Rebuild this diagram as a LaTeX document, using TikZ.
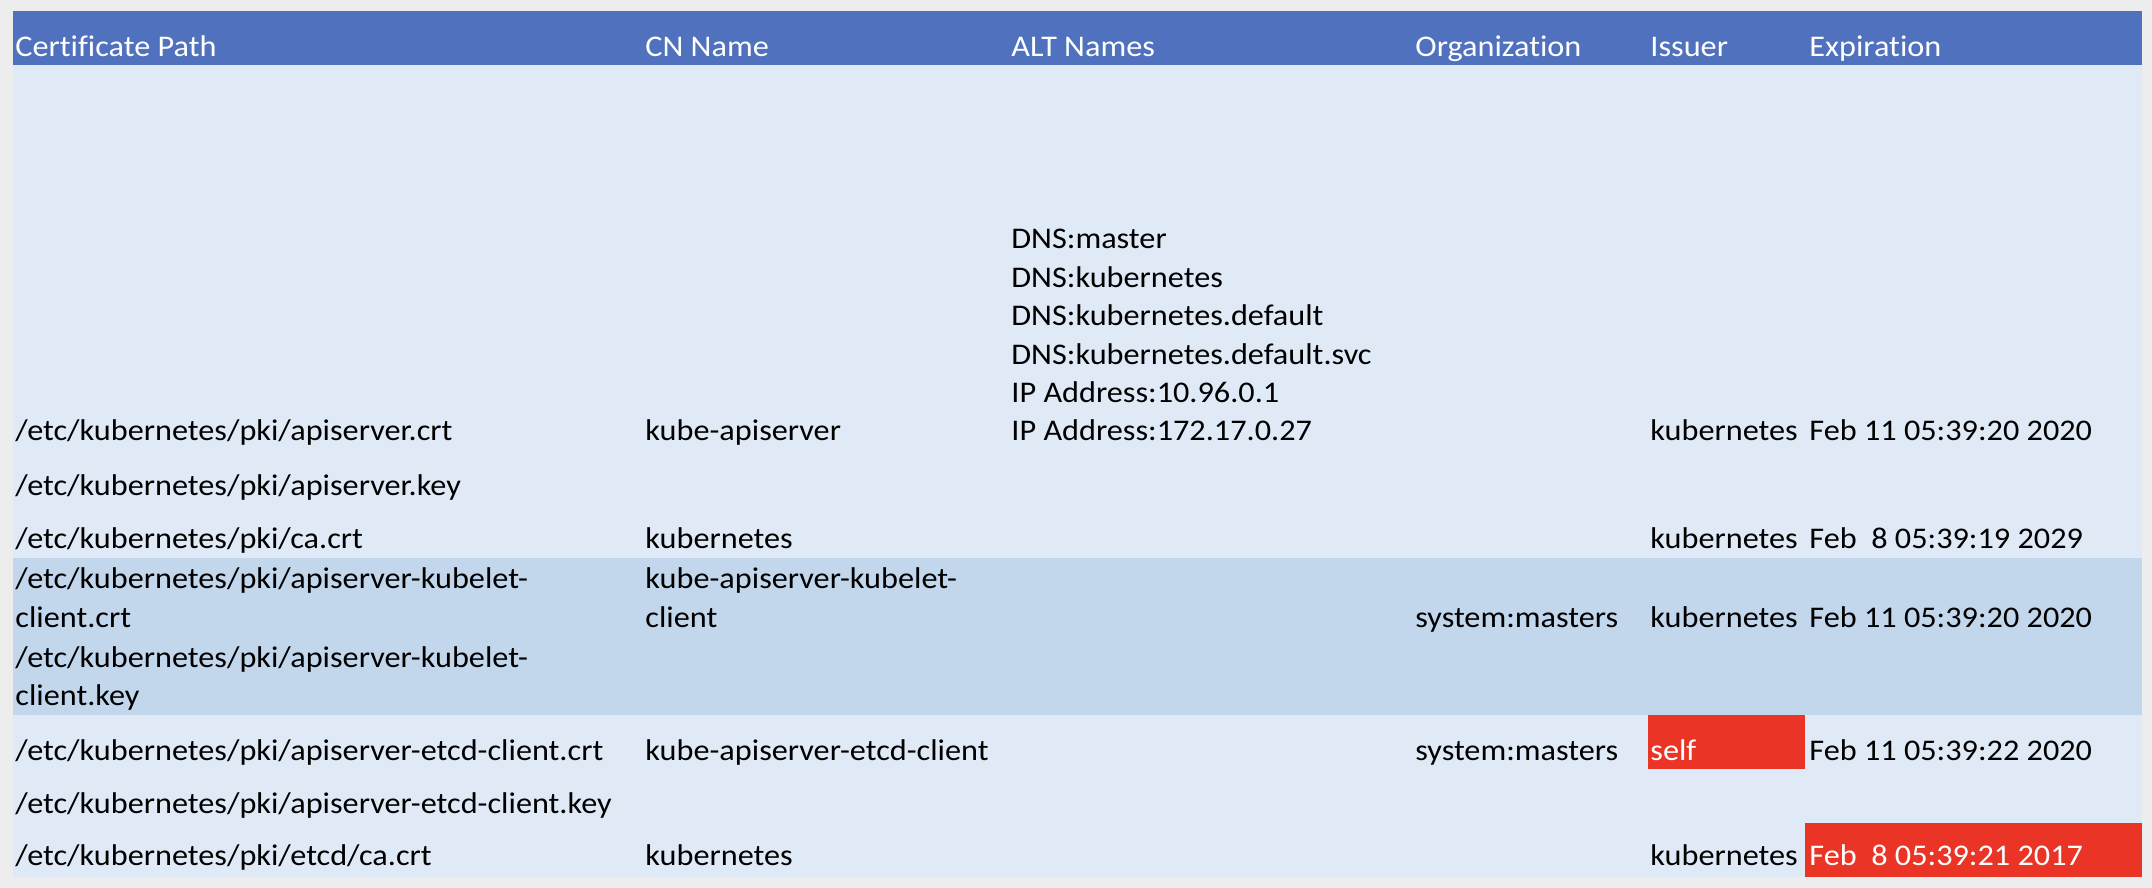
\documentclass[tikz,border=0pt]{standalone}
\usepackage{fontspec}
\setmainfont[FakeStretch=1.075, Ligatures={NoCommon}]{Carlito}
\usepackage{tikz}
\usetikzlibrary{positioning}
\definecolor{headblue}{HTML}{4F71BE}
\definecolor{rowlight}{HTML}{DFEAF6}
\definecolor{rowdark}{HTML}{C2D6EC}
\definecolor{alertred}{HTML}{EA3526}
\definecolor{pagegray}{HTML}{EDEDED}
\tikzset{cell/.style = {anchor = base west, inner sep = 0, font = \fontsize{15}{18}\selectfont}}
\tikzset{head/.style = {cell, text = white}}
\tikzset{alert/.style = {cell, text = white}}

\begin{document}
\begin{tikzpicture}[x = 0.5pt, y = -0.5pt]
      \useasboundingbox [fill=pagegray] (0, 0) rectangle (2152, 888);
      % bands
      \fill [headblue] (13, 11) rectangle (2142, 65);
      \fill [rowlight] (13, 65) rectangle (2142, 877);
      \fill [rowdark] (13, 558) rectangle (2142, 715);
      \fill [alertred] (1648, 715) rectangle (1805, 769);
      \fill [alertred] (1805, 823) rectangle (2142, 877);
      % header
      \node [head] (hpath) at (15, 57) {Certificate Path};
      \node [head] (hcn) at (645, 57) {CN Name};
      \node [head] (halt) at (1011, 57) {ALT Names};
      \node [head] (horg) at (1415, 57) {Organization};
      \node [head] (hiss) at (1650, 57) {Issuer};
      \node [head] (hexp) at (1809, 57) {Expiration};
      % apiserver
      \node [cell] (alt1) at (1011, 248) {DNS:master};
      \node [cell] (alt2) at (1011, 287) {DNS:kubernetes};
      \node [cell] (alt3) at (1011, 325) {DNS:kubernetes.default};
      \node [cell] (alt4) at (1011, 364) {DNS:kubernetes.default.svc};
      \node [cell] (alt5) at (1011, 402) {IP Address:10.96.0.1};
      \node [cell] (alt6) at (1011, 440) {IP Address:172.17.0.27};
      \node [cell] (p1) at (15, 440) {/etc/kubernetes/pki/apiserver.crt};
      \node [cell] (cn1) at (645, 440) {kube-apiserver};
      \node [cell] (iss1) at (1650, 440) {kubernetes};
      \node [cell] (exp1) at (1809, 440) {Feb 11 05:39:20 2020};
      \node [cell] (p2) at (15, 495) {/etc/kubernetes/pki/apiserver.key};
      % ca
      \node [cell] (p3) at (15, 548) {/etc/kubernetes/pki/ca.crt};
      \node [cell] (cn3) at (645, 548) {kubernetes};
      \node [cell] (iss3) at (1650, 548) {kubernetes};
      \node [cell] (exp3) at (1809, 548) {Feb~~8 05:39:19 2029};
      % kubelet client
      \node [cell] (p4a) at (15, 588) {/etc/kubernetes/pki/apiserver-kubelet-};
      \node [cell] (p4b) at (15, 627) {client.crt};
      \node [cell] (p5a) at (15, 667) {/etc/kubernetes/pki/apiserver-kubelet-};
      \node [cell] (p5b) at (15, 705) {client.key};
      \node [cell] (cn4a) at (645, 588) {kube-apiserver-kubelet-};
      \node [cell] (cn4b) at (645, 627) {client};
      \node [cell] (org4) at (1415, 627) {system:masters};
      \node [cell] (iss4) at (1650, 627) {kubernetes};
      \node [cell] (exp4) at (1809, 627) {Feb 11 05:39:20 2020};
      % etcd client
      \node [cell] (p6) at (15, 760) {/etc/kubernetes/pki/apiserver-etcd-client.crt};
      \node [cell] (cn6) at (645, 760) {kube-apiserver-etcd-client};
      \node [cell] (org6) at (1415, 760) {system:masters};
      \node [alert] (iss6) at (1650, 760) {self};
      \node [cell] (exp6) at (1809, 760) {Feb 11 05:39:22 2020};
      \node [cell] (p7) at (15, 813) {/etc/kubernetes/pki/apiserver-etcd-client.key};
      % etcd ca
      \node [cell] (p8) at (15, 865) {/etc/kubernetes/pki/etcd/ca.crt};
      \node [cell] (cn8) at (645, 865) {kubernetes};
      \node [cell] (iss8) at (1650, 865) {kubernetes};
      \node [alert] (exp8) at (1809, 865) {Feb~~8 05:39:21 2017};
    \end{tikzpicture}
\end{document}
